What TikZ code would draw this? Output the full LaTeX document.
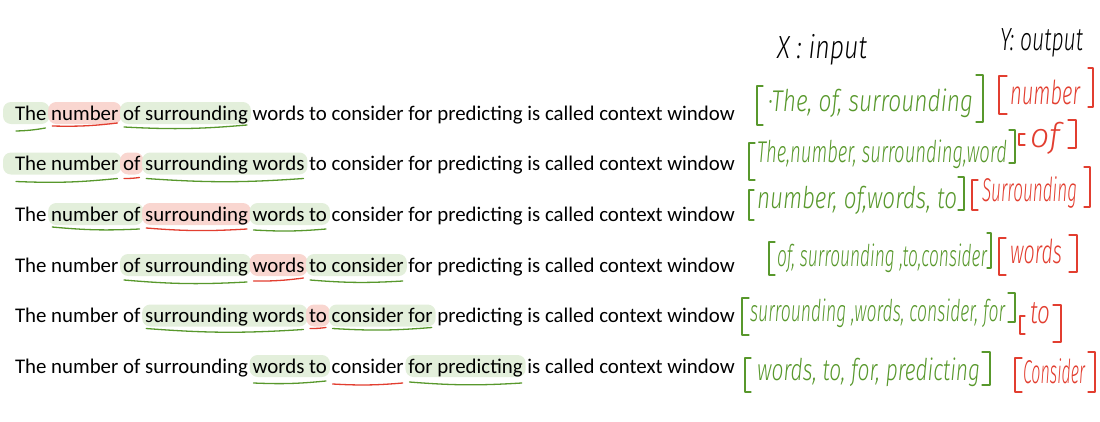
\documentclass[tikz,border=0pt]{standalone}
\usepackage{fontspec}
\usepackage{graphicx}
\setmainfont{Carlito}
\IfFontExistsTF{Fira Sans Light}{\newfontfamily\hwf{Fira Sans Light}}{\newfontfamily\hwf{Fira Sans}}
\usetikzlibrary{calc,backgrounds}
\definecolor{hg}{RGB}{88,152,44}
\definecolor{hr}{RGB}{226,62,48}
\definecolor{bgg}{RGB}{227,239,219}
\definecolor{bgr}{RGB}{249,214,208}
\tikzset{
  word/.style={inner sep=0pt, outer sep=0pt, anchor=base west, font=\fontsize{20.85}{24}\selectfont},
  hlg/.style={fill=bgg, rounded corners=8pt},
  hlr/.style={fill=bgr, rounded corners=8pt},
  ulg/.style={draw=hg, line width=1.3pt, line cap=round},
  ulr/.style={draw=hr, line width=1.3pt, line cap=round},
  hand/.style={inner sep=0pt, outer sep=0pt, anchor=base west},
  brg/.style={draw=hg, line width=1.2pt, line cap=round, line join=round},
  brr/.style={draw=hr, line width=1.2pt, line cap=round, line join=round},
}
\newcommand\mksent[2]{%
  \foreach \w [count=\i, remember=\i as \j (initially 0)] in {The,number,of,surrounding,words,to,consider,for,predicting,is,called,context,window}{%
    \ifnum\i=1
      \node[word] (s#1w\i) at (15,#2) {\w};
    \else
      \node[word] (s#1w\i) at ([xshift=4.72pt]s#1w\j.base east) {\w};
    \fi
  }%
}
% style, line, from word, to word, left extension
\newcommand\hlt[5]{\fill[#1] ($(s#2w#3.base west)+(-#5,-18)$) rectangle ($(s#2w#4.base east)+(3,4)$);}
% style, line, from word, to word, dy left, dy right
\newcommand\ult[6]{\draw[#1] ($(s#2w#3.base west)+(1,#5)$) to[bend right=4] ($(s#2w#4.base east)+(-1,#6)$);}
% left / right brackets: style, x, ytop, ybot, serif
\newcommand\lbr[5]{\draw[#1] ({#2+#5},#3) -- (#2,#3) -- (#2,#4) -- ({#2+#5},#4);}
\newcommand\rbr[5]{\draw[#1] ({#2-#5},#3) -- (#2,#3) -- (#2,#4) -- ({#2-#5},#4);}
% handwritten text: width, size, text
\newcommand\hwt[3]{\resizebox{#1pt}{\height}{\hwf\itshape\fontsize{#2}{#2}\selectfont #3}}
\begin{document}
\begin{tikzpicture}[x=1pt,y=-1pt]
\useasboundingbox (0,0) rectangle (1100,421);
% sentences
\mksent{1}{120}
\mksent{2}{170.5}
\mksent{3}{221}
\mksent{4}{272}
\mksent{5}{322.5}
\mksent{6}{373}
\begin{pgfonlayer}{background}
  \hlt{hlg}{1}{1}{1}{12}\hlt{hlr}{1}{2}{2}{3}\hlt{hlg}{1}{3}{4}{3}
  \hlt{hlg}{2}{1}{2}{12}\hlt{hlr}{2}{3}{3}{3}\hlt{hlg}{2}{4}{5}{3}
  \hlt{hlg}{3}{2}{3}{3}\hlt{hlr}{3}{4}{4}{3}\hlt{hlg}{3}{5}{6}{3}
  \hlt{hlg}{4}{3}{4}{3}\hlt{hlr}{4}{5}{5}{3}\hlt{hlg}{4}{6}{7}{3}
  \hlt{hlg}{5}{4}{5}{3}\hlt{hlr}{5}{6}{6}{3}\hlt{hlg}{5}{7}{8}{3}
  \hlt{hlg}{6}{5}{6}{3}\hlt{hlg}{6}{8}{9}{3}
\end{pgfonlayer}
% underlines
\ult{ulg}{1}{1}{1}{11}{8}\ult{ulr}{1}{2}{2}{6}{3}\ult{ulg}{1}{3}{4}{7}{5}
\ult{ulg}{2}{1}{2}{11}{8}\ult{ulr}{2}{3}{3}{8}{7}\ult{ulg}{2}{4}{5}{8}{8}
\ult{ulg}{3}{2}{3}{6}{8}\ult{ulr}{3}{4}{4}{7}{8}\ult{ulg}{3}{5}{6}{9}{8}
\ult{ulg}{4}{3}{4}{8}{10}\ult{ulr}{4}{5}{5}{9}{6}\ult{ulg}{4}{6}{7}{8}{9}
\ult{ulg}{5}{4}{5}{6}{7}\ult{ulr}{5}{6}{6}{6}{5}\ult{ulg}{5}{7}{8}{6}{5}
\ult{ulg}{6}{5}{6}{10}{8}\ult{ulr}{6}{7}{7}{11}{10}\ult{ulg}{6}{8}{9}{9}{10}
% headers
\node[hand] (hx) at (777,58) {\hwt{90}{32}{X : input}};
\node[hand] (hy) at (1000,50) {\hwt{83}{32}{Y: output}};
% inputs
\node[hand, text=hg] (in1) at (768,111) {\hwt{205}{30}{·The, of, surrounding}};
\node[hand, text=hg] (in2) at (757,162) {\hwt{250}{30}{The,number, surrounding,word}};
\node[hand, text=hg] (in3) at (757,208) {\hwt{200}{30}{number, of,words, to}};
\node[hand, text=hg] (in4) at (777,266) {\hwt{210}{30}{of, surrounding ,to,consider}};
\node[hand, text=hg] (in5) at (750,321) {\hwt{255}{30}{surrounding ,words, consider, for}};
\node[hand, text=hg] (in6) at (757,380) {\hwt{223}{30}{words, to, for, predicting}};
% outputs
\node[hand, text=hr] (out1) at (1010,104) {\hwt{70}{33}{number}};
\node[hand, text=hr] (out2) at (1030,147) {\hwt{30}{34}{of}};
\node[hand, text=hr] (out3) at (982,201) {\hwt{95}{33}{Surrounding}};
\node[hand, text=hr] (out4) at (1010,263) {\hwt{52}{33}{words}};
\node[hand, text=hr] (out5) at (1030,323) {\hwt{20}{32}{to}};
\node[hand, text=hr] (out6) at (1023,383) {\hwt{62}{33}{Consider}};
% brackets
\lbr{brg}{757}{86}{125}{6}\rbr{brg}{983}{75}{122}{7}
\lbr{brr}{999}{76}{114}{8}\rbr{brr}{1093}{68}{107}{5}
\lbr{brg}{749}{143}{180}{6}\rbr{brg}{1015}{130}{163}{6}
\lbr{brr}{1019}{134}{145}{6}\rbr{brr}{1076}{120}{148}{8}
\lbr{brg}{749}{190}{220}{5}\rbr{brg}{964}{177}{210}{6}
\lbr{brr}{972}{180}{210}{6}\rbr{brr}{1090}{167}{207}{6}
\lbr{brg}{769}{242}{275}{6}\rbr{brg}{991}{233}{268}{4}
\lbr{brr}{999}{238}{275}{7}\rbr{brr}{1077}{235}{272}{8}
\lbr{brg}{742}{298}{335}{7}\rbr{brg}{1015}{293}{322}{7}
\lbr{brr}{1020}{316}{334}{5}\rbr{brr}{1061}{305}{342}{8}
\lbr{brg}{745}{358}{392}{6}\rbr{brg}{990}{352}{385}{8}
\lbr{brr}{1015}{358}{392}{7}\rbr{brr}{1095}{352}{392}{7}
\end{tikzpicture}
\end{document}
